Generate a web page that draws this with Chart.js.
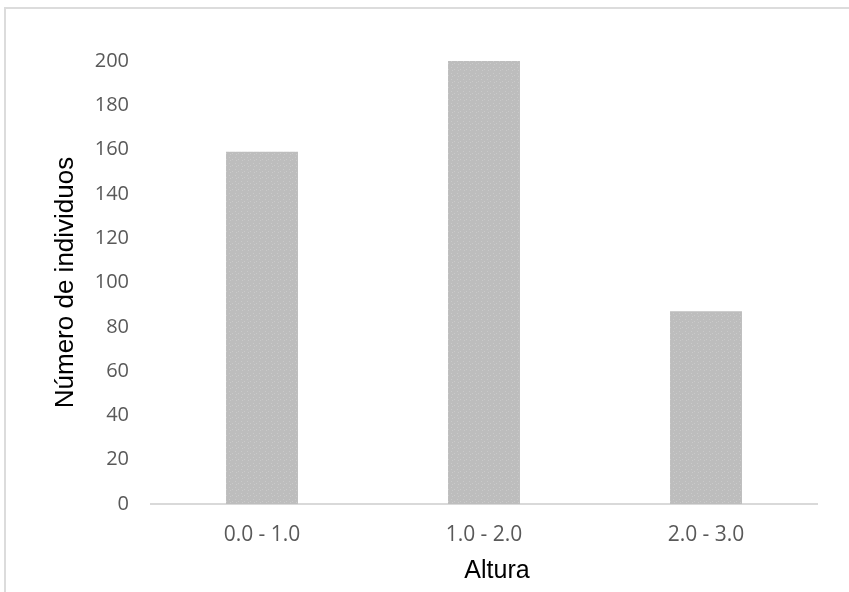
<!DOCTYPE html>
<html>
<head>
<meta charset="utf-8">
<script src="https://cdn.jsdelivr.net/npm/chart.js@4"></script>
<style>
  html, body { margin: 0; padding: 0; background: #ffffff; }
  #wrap { position: relative; width: 849px; height: 592px; overflow: hidden; }
  #frame { position: absolute; left: 4px; top: 7px; width: 900px; height: 700px;
           border-left: 2px solid #dcdcdc; border-top: 2px solid #dcdcdc; box-sizing: border-box; }
  canvas { position: absolute; left: 0; top: 0; }
</style>
</head>
<body>
<div id="wrap">
  <div id="frame"></div>
  <canvas id="c" width="849" height="592"></canvas>
</div>
<script>
const categories = ["0.0 - 1.0", "1.0 - 2.0", "2.0 - 3.0"];
const counts = [159, 200, 87];
const yTitle = "Número de individuos";
const xTitle = "Altura";

function makePattern() {
  const t = document.createElement('canvas');
  t.width = 6; t.height = 6;
  const g = t.getContext('2d');
  g.fillStyle = '#bdbdbd';
  g.fillRect(0, 0, 6, 6);
  g.fillStyle = '#cacaca';
  g.fillRect(1, 1, 1, 1);
  g.fillRect(4, 3, 1, 1);
  g.fillRect(2, 4, 1, 1);
  return g.createPattern(t, 'repeat');
}

const xTitlePlugin = {
  id: 'xTitlePlugin',
  afterDraw(chart) {
    const ctx = chart.ctx;
    const a = chart.chartArea;
    ctx.save();
    ctx.font = '25px "Liberation Sans", Arial, sans-serif';
    ctx.fillStyle = '#000000';
    ctx.textAlign = 'center';
    ctx.textBaseline = 'alphabetic';
    ctx.fillText(xTitle, (a.left + a.right) / 2 + 13, 578);
    ctx.restore();
  }
};

new Chart(document.getElementById('c'), {
  type: 'bar',
  data: {
    labels: categories,
    datasets: [{
      data: counts,
      backgroundColor: makePattern(),
      borderWidth: 0,
      categoryPercentage: 1,
      barPercentage: 0.324
    }]
  },
  options: {
    responsive: false,
    animation: false,
    events: [],
    layout: { padding: { left: 0, top: 61, right: 32, bottom: 0 } },
    plugins: { legend: { display: false }, tooltip: { enabled: false } },
    scales: {
      x: {
        grid: { display: false, drawTicks: false },
        border: { display: true, color: '#d9d9d9', width: 2 },
        ticks: {
          color: '#595959',
          padding: 18,
          font: { family: '"Open Sans", sans-serif', size: 21 }
        },
        afterFit(s) { s.height = 88; }
      },
      y: {
        min: 0, max: 200,
        grid: { display: false, drawTicks: false },
        border: { display: false },
        ticks: {
          stepSize: 20,
          color: '#595959',
          padding: 22,
          font: { family: '"Open Sans", sans-serif', size: 20 }
        },
        title: {
          display: true,
          text: yTitle,
          color: '#000000',
          padding: { top: 50, bottom: 0 },
          font: { family: '"Liberation Sans", Arial, sans-serif', size: 26 }
        },
        afterFit(s) { s.width = 151; }
      }
    }
  },
  plugins: [xTitlePlugin]
});
</script>
</body>
</html>
